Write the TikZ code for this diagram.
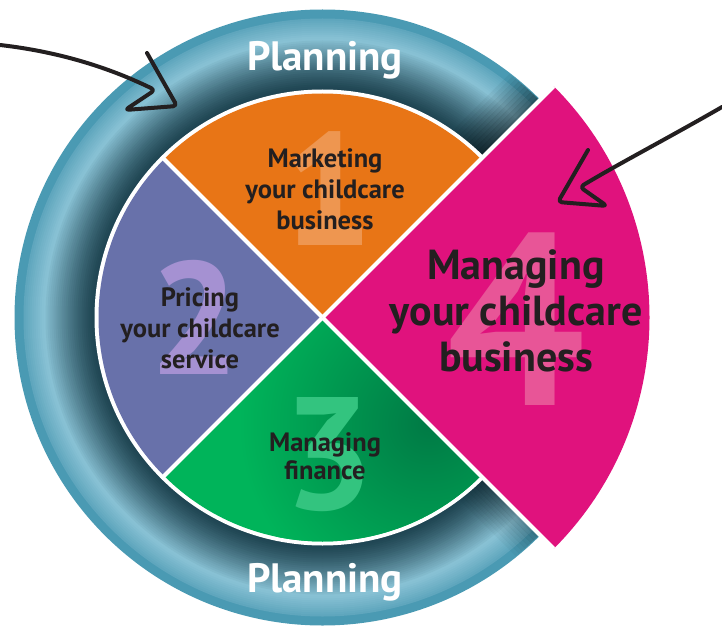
\documentclass[tikz,border=0pt]{standalone}
\usepackage{fontspec}
\setmainfont{PT Sans}
\usetikzlibrary{calc}
\definecolor{orangeS}{HTML}{E87516}
\definecolor{purpleS}{HTML}{6871AA}
\definecolor{greenS}{HTML}{00B45A}
\definecolor{greenD}{HTML}{007A45}
\definecolor{magS}{HTML}{E0127D}
\definecolor{numO}{HTML}{EE9650}
\definecolor{numP}{HTML}{A591D2}
\definecolor{numG}{HTML}{33C47F}
\definecolor{numM}{HTML}{E85597}
\definecolor{txt}{HTML}{231F20}
\definecolor{ringRim}{HTML}{4A9AB3}
\definecolor{ringLight}{HTML}{88C1D4}
\definecolor{ringMid}{HTML}{5FA6BD}
\definecolor{ringDark}{HTML}{1F4552}
\begin{document}
\begin{tikzpicture}[x=1pt,y=1pt,
  lbl/.style={text=txt, font=\fontsize{26.5}{31}\selectfont\bfseries, align=center, inner sep=0pt},
  biglbl/.style={text=txt, font=\fontsize{42}{46}\selectfont\bfseries, align=center, inner sep=0pt},
  num/.style={font=\fontsize{160}{160}\selectfont\bfseries, inner sep=0pt},
  plan/.style={text=white, font=\fontsize{41}{41}\selectfont\bfseries, inner sep=0pt, anchor=base},
  handarrow/.style={draw=txt, line width=4pt, line cap=round, line join=round, rounded corners=4pt}]
\useasboundingbox (0,0) rectangle (722,625);
\coordinate (C) at (322.5,307.5);
% ring (stepped radial gradient)
\fill[ringRim] (C) circle (308);
\foreach \r in {299,297,...,281} {
  \pgfmathtruncatemacro\p{(\r-280)/19*100}
  \fill[ringMid!\p!ringLight] (C) circle (\r);
}
\foreach \r in {279,277,...,229} {
  \pgfmathtruncatemacro\p{((\r-228)/51)^1.3*100}
  \fill[ringLight!\p!ringDark] (C) circle (\r);
}
% shadow of the magenta sector on the ring
\begin{scope}
  \clip (C) circle (307);
  \begin{scope}[rotate around={45:(C)}]
    \foreach \i in {0,...,9} {
      \pgfmathsetmacro\op{0.045*(10-\i)}
      \fill[black, fill opacity=\op] ($(C)+(226,\i*4)$) rectangle ($(C)+(312,\i*4+4)$);
    }
  \end{scope}
  \begin{scope}[rotate around={-45:(C)}]
    \foreach \i in {0,...,7} {
      \pgfmathsetmacro\op{0.03*(8-\i)}
      \fill[black, fill opacity=\op] ($(C)+(226,-\i*4-4)$) rectangle ($(C)+(312,-\i*4)$);
    }
  \end{scope}
\end{scope}
% pie
\fill[white] (C) circle (228);
\fill[orangeS] (C) -- +(45:224) arc (45:135:224) -- cycle;
\fill[purpleS] (C) -- +(135:224) arc (135:225:224) -- cycle;
\fill[greenS] (C) -- +(225:224) arc (225:315:224) -- cycle;
\begin{scope}
  \clip (C) -- +(225:224) arc (225:315:224) -- cycle;
  \shade[inner color=greenD, outer color=greenS] ($(C)+(-45:150)$) circle (190);
\end{scope}
\draw[white, line width=4pt] (C) -- +(135:228);
\draw[white, line width=4pt] (C) -- +(225:228);
% magenta sector
\fill[magS] (C) -- +(-45:327) arc (-45:45:327) -- cycle;
\draw[white, line width=4pt] (C) -- +(-45:327);
\draw[white, line width=4pt] (C) -- +(45:327);
% big numbers
\node[num, text=numO] (n1) at (328,436) {1};
\node[num, text=numP] (n2) at (195,308) {2};
\node[num, text=numG] (n3) at (329,170) {3};
\node[num, text=numM, font=\fontsize{245}{245}\selectfont\bfseries] (n4) at (516,306) {4};
% labels
\node[lbl] (t1) at (325,435.5) {Marketing\\your childcare\\business};
\node[lbl] (t2) at (200,297) {Pricing\\your childcare\\service};
\node[lbl, font=\fontsize{26.5}{28}\selectfont\bfseries] (t3) at (325,168.5) {Managing\\finance};
\node[biglbl] (t4) at (516,314) {Managing\\your childcare\\business};
\node[plan] (p1) at (325,554) {Planning};
\node[plan] (p2) at (325,33) {Planning};
% hand-drawn arrows
\coordinate (a1s) at (0,580);
\coordinate (a1j) at (155,535);
\coordinate (a1l) at (125,515);
\coordinate (a1t) at (177,519);
\coordinate (a1e) at (147,572);
\draw[handarrow] (a1s) .. controls (70,572) and (120,552) .. (a1j) -- (a1l) -- (a1t) -- (a1e);
\coordinate (a2s) at (722,518);
\coordinate (a2j) at (580,438);
\coordinate (a2t) at (607,419);
\coordinate (a2l) at (558,423);
\coordinate (a2e) at (588,475);
\draw[handarrow] (a2s) .. controls (670,488) and (620,462) .. (a2j) -- (a2t) -- (a2l) -- (a2e);
\end{tikzpicture}
\end{document}
